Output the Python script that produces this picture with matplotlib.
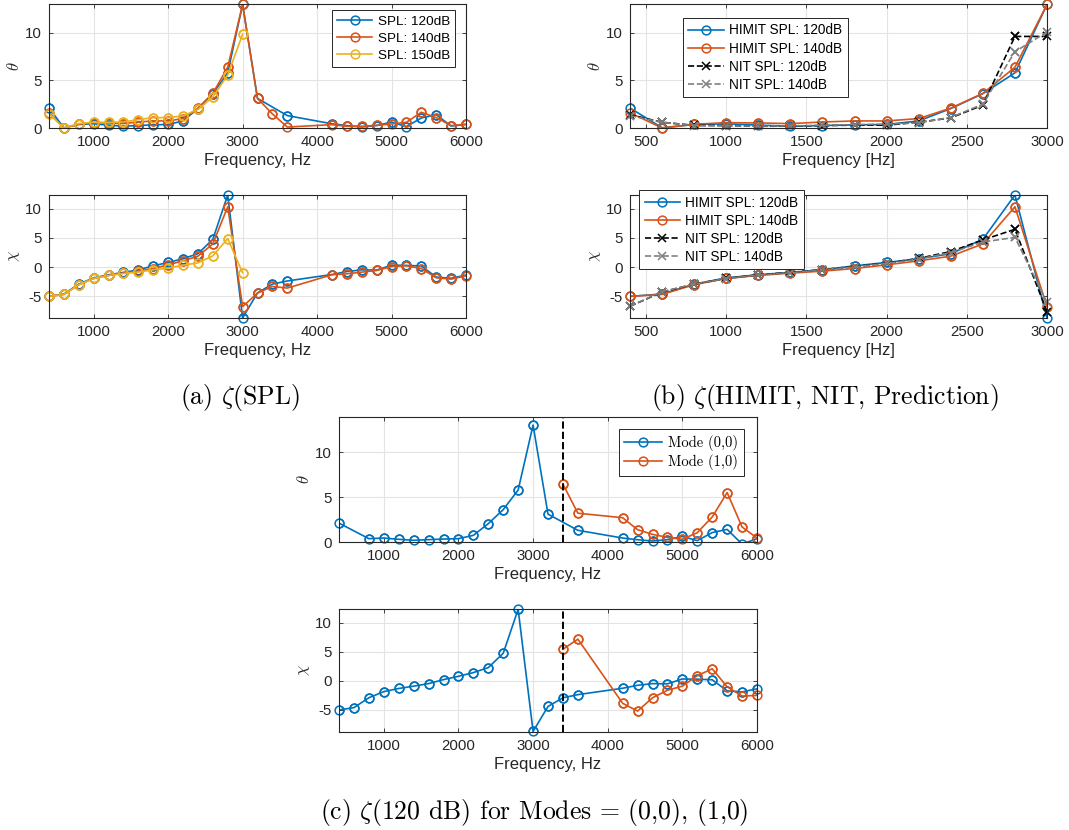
import numpy as np
import matplotlib
matplotlib.use("Agg")
import matplotlib.pyplot as plt

plt.rcParams['font.family'] = ['Liberation Sans', 'DejaVu Sans']
plt.rcParams['mathtext.fontset'] = 'cm'
plt.rcParams['axes.unicode_minus'] = False

# frequencies, Hz
f_all = [400, 600, 800, 1000, 1200, 1400, 1600, 1800, 2000, 2200, 2400, 2600, 2800, 3000,
         3200, 3400, 3600, 4200, 4400, 4600, 4800, 5000, 5200, 5400, 5600, 5800, 6000]
f_low = [400, 600, 800, 1000, 1200, 1400, 1600, 1800, 2000, 2200, 2400, 2600, 2800, 3000]

# (a) SPL sweep
theta_120 = [2.1, 0.02, 0.37, 0.44, 0.3, 0.19, 0.26, 0.33, 0.37, 0.74, 2.04, 3.6, 5.78, 12.95,
             3.1, np.nan, 1.3, 0.44, 0.25, 0.11, 0.26, 0.62, 0.15, 1.05, 1.4, 0.2, 0.37]
theta_140 = [1.6, 0.0, 0.39, 0.56, 0.53, 0.46, 0.63, 0.74, 0.74, 0.99, 2.08, 3.63, 6.37, 12.95,
             3.1, 1.48, 0.1, 0.35, 0.18, 0.18, 0.28, 0.42, 0.6, 1.65, 1.09, 0.25, 0.39]
theta_150 = [1.5, 0.0, 0.46, 0.6, 0.6, 0.63, 0.88, 1.09, 1.09, 1.27, 1.94, 3.24, 5.56, 9.82]
chi_120 = [-5.0, -4.6, -2.9, -1.84, -1.3, -0.9, -0.46, 0.23, 0.8, 1.44, 2.3, 4.77, 12.35, -8.7,
           -4.4, -2.9, -2.36, -1.26, -0.75, -0.46, -0.5, 0.34, 0.3, 0.2, -1.7, -1.9, -1.35]
chi_140 = [-5.0, -4.66, -3.0, -1.93, -1.42, -1.02, -0.68, -0.23, 0.4, 1.08, 1.88, 3.98, 10.34, -6.76,
           -4.43, -3.3, -3.58, -1.3, -1.14, -0.85, -0.57, 0.11, 0.23, -0.23, -1.82, -2.05, -1.48]
chi_150 = [-5.0, -4.66, -3.0, -1.93, -1.42, -1.08, -0.85, -0.45, -0.17, 0.34, 0.74, 1.93, 4.89, -0.97]

# (b) NIT prediction
nit_theta_120 = [1.4, 0.6, 0.28, 0.25, 0.18, 0.2, 0.25, 0.3, 0.3, 0.6, 1.06, 2.4, 9.6, 9.6]
nit_theta_140 = [1.3, 0.6, 0.25, 0.22, 0.2, 0.22, 0.28, 0.35, 0.4, 0.55, 1.1, 2.5, 8.0, 10.07]
nit_chi_120 = [-6.7, -4.26, -2.9, -1.93, -1.3, -0.9, -0.4, 0.1, 0.7, 1.5, 2.67, 4.66, 6.48, -7.6]
nit_chi_140 = [-6.7, -4.2, -2.9, -1.95, -1.35, -0.95, -0.45, 0.05, 0.65, 1.4, 2.5, 4.3, 5.1, -6.0]

# (c) modes at 120 dB
m00_theta = [2.1, np.nan, 0.37, 0.44, 0.3, 0.19, 0.26, 0.33, 0.37, 0.74, 2.04, 3.6, 5.78, 13.0,
             3.1, np.nan, 1.3, 0.44, 0.25, 0.11, 0.26, 0.62, 0.15, 1.05, 1.4, -0.23, 0.37]
f_m10 = [3400, 3600, 4200, 4400, 4600, 4800, 5000, 5200, 5400, 5600, 5800, 6000]
m10_theta = [6.44, 3.2, 2.7, 1.37, 0.85, 0.52, 0.3, 1.04, 2.78, 5.5, 1.67, 0.44]
m10_chi = [5.46, 7.2, -3.85, -5.2, -2.9, -1.6, -0.9, 0.9, 2.1, -1.0, -2.6, -2.5]
cut_on = 3400

blue = '#0072BD'
orange = '#D95319'
yellow = '#EDB120'
axcol = '#262626'
serif = ['cmr10', 'DejaVu Serif']

W, H = 1069, 830
fig = plt.figure(figsize=(W / 100, H / 100), dpi=100)


def make_ax(l, r, t, b, xlim, ylim, xticks, yticks, xlabel, ylabel):
    ax = fig.add_axes([l / W, 1 - b / H, (r - l) / W, (b - t) / H])
    ax.grid(True, color='#e3e3e3', linewidth=0.8)
    ax.set_axisbelow(True)
    for s in ax.spines.values():
        s.set_color(axcol)
        s.set_linewidth(0.8)
    ax.tick_params(direction='in', length=3, width=0.6, colors=axcol, labelsize=10.8,
                   top=True, right=True, pad=5)
    ax.set_xlim(*xlim)
    ax.set_ylim(*ylim)
    ax.set_xticks(xticks)
    ax.set_yticks(yticks)
    ax.set_xlabel(xlabel, fontsize=12, color=axcol, labelpad=3)
    ax.set_ylabel(ylabel, fontsize=12, color=axcol, labelpad=2)
    return ax


def line(ax, x, y, c, label=None, ls='-', m='o'):
    x = np.asarray(x, float)
    y = np.asarray(y, float)
    ok = ~np.isnan(y)
    x, y = x[ok], y[ok]
    kw = dict(color=c, marker=m, mfc='none', ms=6.3, mew=1.1, lw=1.2)
    ax.plot(x, y, ls, label=label, **kw)
    # markers on the axes edge are drawn whole, as MATLAB does
    lo, hi = ax.get_ylim()
    inside = (y >= lo - 1e-9) & (y <= hi + 1e-9)
    kw['lw'] = 0
    ax.plot(x[inside], y[inside], clip_on=False, **kw)


def leg(ax, size, anchor, loc, spacing=0.3, **kw):
    lg = ax.legend(fontsize=size, fancybox=False, edgecolor=axcol, framealpha=1,
                   handlelength=2.6, borderpad=0.4, labelspacing=spacing, handletextpad=0.4,
                   borderaxespad=0, loc=loc, bbox_to_anchor=anchor, **kw)
    lg.get_frame().set_linewidth(0.7)
    return lg


ticks_wide = [1000, 2000, 3000, 4000, 5000, 6000]
ticks_b = [500, 1000, 1500, 2000, 2500, 3000]

# (a) top
ax = make_ax(49, 466, 4, 128, (400, 6000), (0, 13.0), ticks_wide, [0, 5, 10],
             'Frequency, Hz', r'$\theta$')
line(ax, f_all, theta_120, blue, 'SPL: 120dB')
line(ax, f_all, theta_140, orange, 'SPL: 140dB')
line(ax, f_low, theta_150, yellow, 'SPL: 150dB')
leg(ax, 9.7, (0.974, 0.952), 'upper right', spacing=0.35)

# (a) bottom
ax = make_ax(49, 466, 195, 318, (400, 6000), (-8.7, 12.35), ticks_wide, [-5, 0, 5, 10],
             'Frequency, Hz', r'$\chi$')
line(ax, f_all, chi_120, blue)
line(ax, f_all, chi_140, orange)
line(ax, f_low, chi_150, yellow)

# (b) top
ax = make_ax(630, 1047, 4, 128, (400, 3000), (0, 13.0), ticks_b, [0, 5, 10],
             'Frequency [Hz]', r'$\theta$')
line(ax, f_low, theta_120[:14], blue, 'HIMIT SPL: 120dB')
line(ax, f_low, theta_140[:14], orange, 'HIMIT SPL: 140dB')
line(ax, f_low, nit_theta_120, 'black', 'NIT SPL: 120dB', ls='--', m='x')
line(ax, f_low, nit_theta_140, '#808080', 'NIT SPL: 140dB', ls='--', m='x')
leg(ax, 9.8, (0.127, 0.887), 'upper left')

# (b) bottom
ax = make_ax(630, 1047, 195, 318, (400, 3000), (-8.7, 12.35), ticks_b, [-5, 0, 5, 10],
             'Frequency [Hz]', r'$\chi$')
line(ax, f_low, chi_120[:14], blue, 'HIMIT SPL: 120dB')
line(ax, f_low, chi_140[:14], orange, 'HIMIT SPL: 140dB')
line(ax, f_low, nit_chi_120, 'black', 'NIT SPL: 120dB', ls='--', m='x')
line(ax, f_low, nit_chi_140, '#808080', 'NIT SPL: 140dB', ls='--', m='x')
leg(ax, 9.8, (0.022, 1.04), 'upper left')

# (c) top
ax = make_ax(339, 757, 417, 542, (400, 6000), (0, 13.9), ticks_wide, [0, 5, 10],
             'Frequency, Hz', r'$\theta$')
line(ax, f_all, m00_theta, blue, 'Mode (0,0)')
line(ax, f_m10, m10_theta, orange, 'Mode (1,0)')
ax.axvline(cut_on, color='black', ls='--', lw=1.4)
leg(ax, 10.5, (0.969, 0.904), 'upper right', spacing=0.2, prop={'family': serif, 'size': 10.5})

# (c) bottom
ax = make_ax(339, 757, 609, 732, (400, 6000), (-8.8, 12.4), ticks_wide, [-5, 0, 5, 10],
             'Frequency, Hz', r'$\chi$')
line(ax, f_all, chi_120, blue)
line(ax, f_m10, m10_chi, orange)
ax.axvline(cut_on, color='black', ls='--', lw=1.4)

# captions
cap_kw = dict(fontsize=18.5, ha='center', va='center', color='black', family=serif)
fig.text(240 / W, 1 - 397 / H, r'(a) $\zeta$(SPL)', **cap_kw)
fig.text(825 / W, 1 - 397 / H, r'(b) $\zeta$(HIMIT, NIT, Prediction)', **cap_kw)
fig.text(534 / W, 1 - 812 / H, r'(c) $\zeta$(120 dB) for Modes = (0,0), (1,0)', **cap_kw)

fig.savefig('out.png', dpi=100)
